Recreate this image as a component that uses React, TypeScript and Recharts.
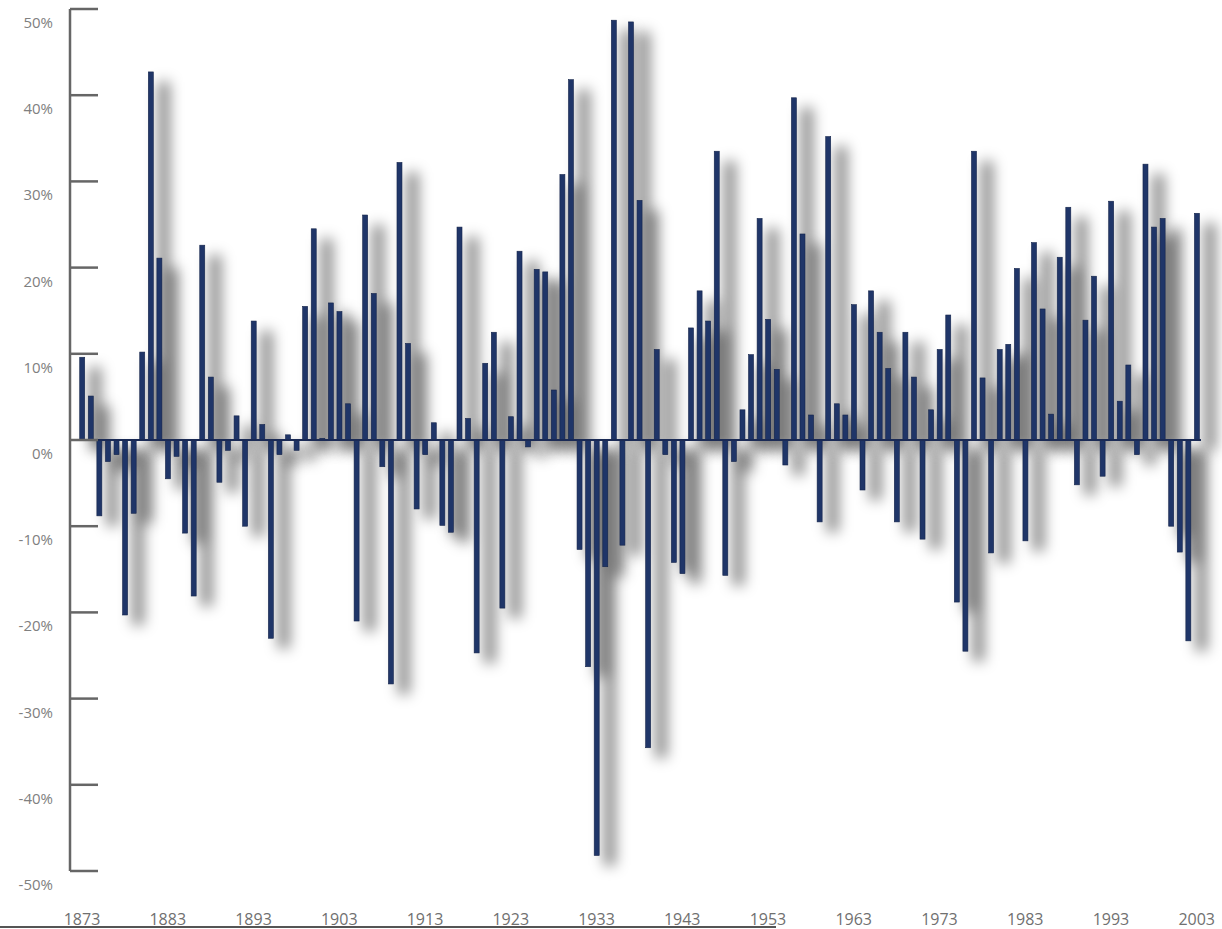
import { BarChart, Bar, XAxis, YAxis, ReferenceLine } from "recharts";

const FIRST_YEAR = 1873;

// yearly returns, %, 1873 .. 2003
const returns = [
  9.6, 5.1, -8.8, -2.5, -1.7, -20.3, -8.5, 10.2, 42.7, 21.1,
  -4.5, -1.9, -10.8, -18.1, 22.6, 7.3, -4.9, -1.2, 2.8, -10.0,
  13.8, 1.8, -23.0, -1.7, 0.6, -1.2, 15.5, 24.5, 0.2, 15.9,
  14.9, 4.2, -21.0, 26.1, 17.0, -3.1, -28.3, 32.2, 11.2, -8.0,
  -1.7, 2.0, -9.9, -10.7, 24.7, 2.5, -24.7, 8.9, 12.5, -19.5,
  2.7, 21.9, -0.8, 19.8, 19.5, 5.8, 30.8, 41.8, -12.7, -26.3,
  -48.2, -14.7, 48.7, -12.2, 48.5, 27.8, -35.7, 10.5, -1.7, -14.2,
  -15.5, 13.0, 17.3, 13.8, 33.5, -15.7, -2.5, 3.5, 9.9, 25.7,
  14.0, 8.2, -2.9, 39.7, 23.9, 2.9, -9.5, 35.2, 4.2, 2.9,
  15.7, -5.8, 17.3, 12.5, 8.3, -9.5, 12.5, 7.3, -11.5, 3.5,
  10.5, 14.5, -18.8, -24.5, 33.5, 7.2, -13.1, 10.5, 11.1, 19.9,
  -11.7, 22.9, 15.2, 3.0, 21.2, 27.0, -5.2, 13.9, 19.0, -4.2,
  27.7, 4.5, 8.7, -1.7, 32.0, 24.7, 25.7, -10.0, -13.0, -23.3,
  26.3,
];

const years = returns.map((_, i) => FIRST_YEAR + i);

const xTickYears = [1873, 1883, 1893, 1903, 1913, 1923, 1933, 1943, 1953, 1963, 1973, 1983, 1993, 2003];
const yTicks = [50, 40, 30, 20, 10, 0, -10, -20, -30, -40, -50];

const data = years.map((year, i) => ({ year, value: returns[i] }));

const BAR_COLOR = "#1f3568";
const AXIS_COLOR = "#666";
const X_DOMAIN = [1871.6, 2003.5];

const YTick = ({ x, y, payload }: any) => (
  <g>
    <line x1={x} x2={x + 28} y1={y} y2={y} stroke={AXIS_COLOR} strokeWidth={2.5} />
    <text x={x - 17} y={y + 19} textAnchor="end" fontSize={15} fill="#808080" fontFamily="'Open Sans', sans-serif">
      {payload.value}%
    </text>
  </g>
);

const XTick = ({ x, y, payload }: any) => (
  <text x={x} y={y + 54} textAnchor="middle" fontSize={16} fill="#707070" fontFamily="'Open Sans', sans-serif">
    {payload.value}
  </text>
);

// soft grey drop shadow behind each bar, down and to the right
const ShadowShape = ({ x, y, width, height }: any) => {
  const top = Math.min(y, y + height);
  const h = Math.abs(height);
  return (
    <rect x={x + 10} y={top + 10} width={width + 6} height={h} fill="#000" fillOpacity={0.5} filter="url(#barShadow)" />
  );
};

const BarShape = ({ x, y, width, height }: any) => {
  const top = Math.min(y, y + height);
  const h = Math.abs(height);
  return <rect x={x} y={top} width={width} height={h} fill={BAR_COLOR} stroke="#14244a" strokeWidth={0.6} />;
};

export default function App() {
  return (
    <div style={{ position: "absolute", left: 0, top: 0, width: 1222, height: 929, background: "#fff" }}>
      <BarChart
        width={1222}
        height={929}
        data={data}
        margin={{ top: 9, right: 21, bottom: 0, left: 0 }}
      >
        <defs>
          <filter id="barShadow" filterUnits="userSpaceOnUse" x="0" y="0" width="1222" height="929">
            <feGaussianBlur stdDeviation="7" />
          </filter>
        </defs>
        <XAxis
          dataKey="year"
          type="number"
          domain={X_DOMAIN}
          ticks={xTickYears}
          interval={0}
          axisLine={false}
          tickLine={false}
          tickSize={0}
          tickMargin={0}
          height={58}
          tick={XTick}
        />
        <XAxis xAxisId="shadow" dataKey="year" type="number" domain={X_DOMAIN} hide />
        <YAxis
          type="number"
          domain={[-50, 50]}
          ticks={yTicks}
          interval={0}
          width={70}
          axisLine={{ stroke: AXIS_COLOR, strokeWidth: 2.5 }}
          tickLine={false}
          tickSize={0}
          tickMargin={0}
          tick={YTick}
        />
        <Bar xAxisId="shadow" dataKey="value" barSize={5} shape={ShadowShape} isAnimationActive={false} />
        <Bar dataKey="value" barSize={5} shape={BarShape} isAnimationActive={false} />
        <ReferenceLine y={0} stroke="#1a2a55" strokeWidth={2} />
      </BarChart>
      <div style={{ position: "absolute", left: 0, top: 926, width: 776, height: 2, background: "#555" }} />
    </div>
  );
}
